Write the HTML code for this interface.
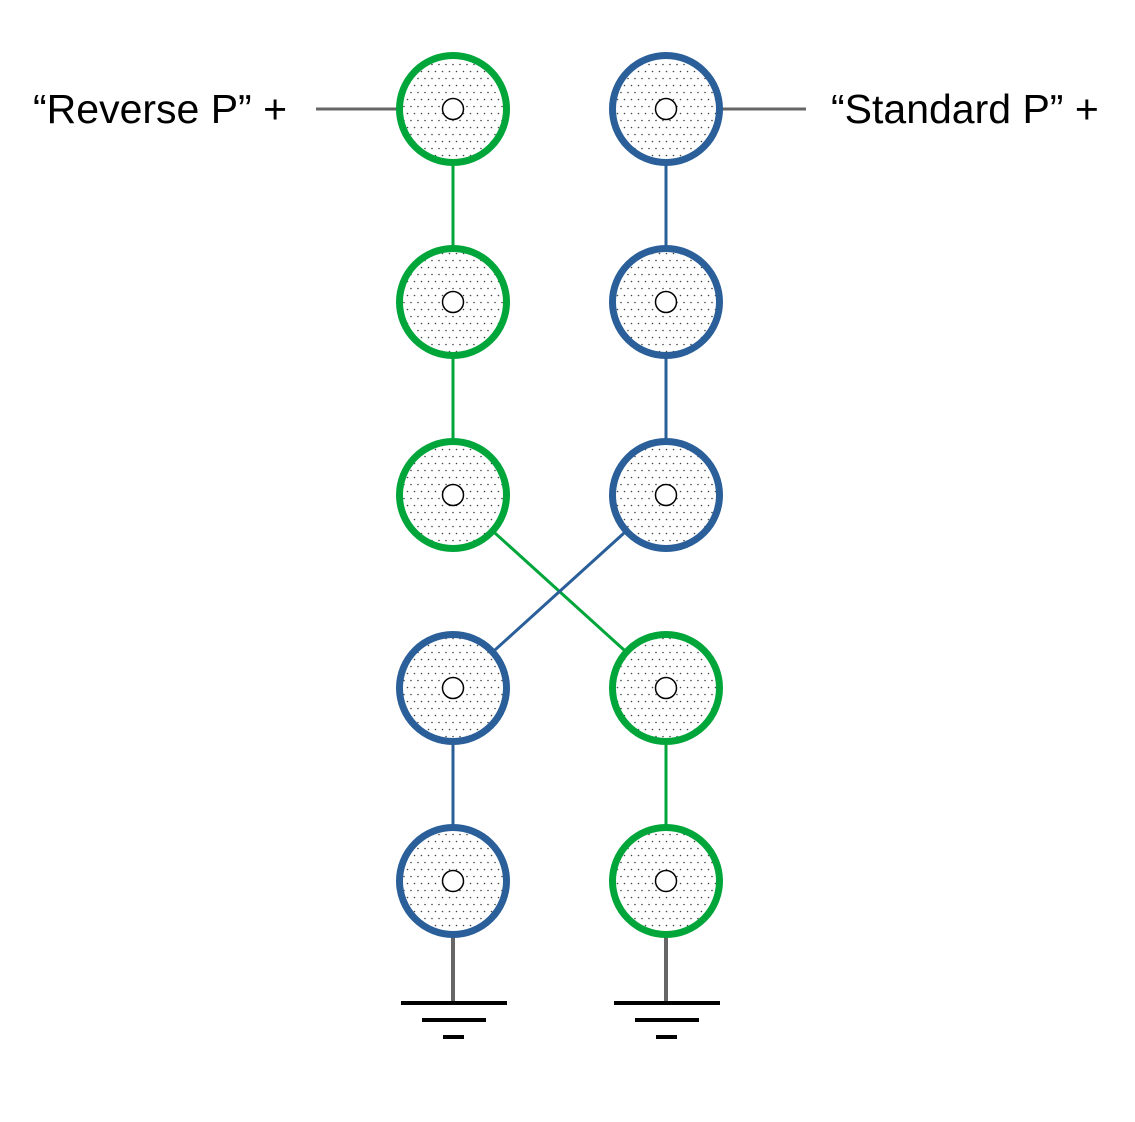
<!DOCTYPE html>
<html><head><style>html,body{margin:0;padding:0;background:#fff}</style></head>
<body>
<svg width="1135" height="1117" viewBox="0 0 1135 1117" xmlns="http://www.w3.org/2000/svg">
<defs>
<pattern id="dots" width="7" height="14" patternUnits="userSpaceOnUse">
<rect width="7" height="14" fill="#fff"/>
<circle cx="1.5" cy="1.5" r="0.8" fill="#444"/>
<circle cx="5" cy="8.5" r="0.8" fill="#444"/>
</pattern>
</defs>
<g stroke-width="3">
<line x1="316" y1="109" x2="398" y2="109" stroke="#666"/>
<line x1="721" y1="109" x2="806" y2="109" stroke="#666"/>
<line x1="453" y1="109" x2="453" y2="495" stroke="#00a63a"/>
<line x1="666" y1="109" x2="666" y2="495" stroke="#2a5f9a"/>
<line x1="453" y1="495" x2="666" y2="688" stroke="#00a63a"/>
<line x1="666" y1="495" x2="453" y2="688" stroke="#2a5f9a"/>
<line x1="453" y1="688" x2="453" y2="881" stroke="#2a5f9a"/>
<line x1="666" y1="688" x2="666" y2="881" stroke="#00a63a"/>
<line x1="453" y1="930" x2="453" y2="1003" stroke="#666" stroke-width="4"/>
<line x1="666" y1="930" x2="666" y2="1003" stroke="#666" stroke-width="4"/>
</g>
<g stroke="#000" stroke-width="4">
<line x1="401" y1="1003" x2="507" y2="1003"/>
<line x1="422" y1="1020" x2="486" y2="1020"/>
<line x1="443" y1="1037" x2="464" y2="1037"/>
<line x1="614" y1="1003" x2="720" y2="1003"/>
<line x1="635" y1="1020" x2="699" y2="1020"/>
<line x1="656" y1="1037" x2="677" y2="1037"/>
</g>
<g stroke-width="7" fill="url(#dots)">
<circle cx="453" cy="109" r="53.5" stroke="#00a63a"/>
<circle cx="453" cy="302" r="53.5" stroke="#00a63a"/>
<circle cx="453" cy="495" r="53.5" stroke="#00a63a"/>
<circle cx="453" cy="688" r="53.5" stroke="#2a5f9a"/>
<circle cx="453" cy="881" r="53.5" stroke="#2a5f9a"/>
<circle cx="666" cy="109" r="53.5" stroke="#2a5f9a"/>
<circle cx="666" cy="302" r="53.5" stroke="#2a5f9a"/>
<circle cx="666" cy="495" r="53.5" stroke="#2a5f9a"/>
<circle cx="666" cy="688" r="53.5" stroke="#00a63a"/>
<circle cx="666" cy="881" r="53.5" stroke="#00a63a"/>
</g>
<g stroke="#000" stroke-width="1.5" fill="#fff">
<circle cx="453" cy="109" r="10.5"/><circle cx="453" cy="302" r="10.5"/><circle cx="453" cy="495" r="10.5"/><circle cx="453" cy="688" r="10.5"/><circle cx="453" cy="881" r="10.5"/>
<circle cx="666" cy="109" r="10.5"/><circle cx="666" cy="302" r="10.5"/><circle cx="666" cy="495" r="10.5"/><circle cx="666" cy="688" r="10.5"/><circle cx="666" cy="881" r="10.5"/>
</g>
<g font-family="Liberation Sans, sans-serif" font-size="41" fill="#000">
<text x="33" y="123">“Reverse P” +</text>
<text x="831" y="123">“Standard P” +</text>
</g>
</svg>
</body></html>
